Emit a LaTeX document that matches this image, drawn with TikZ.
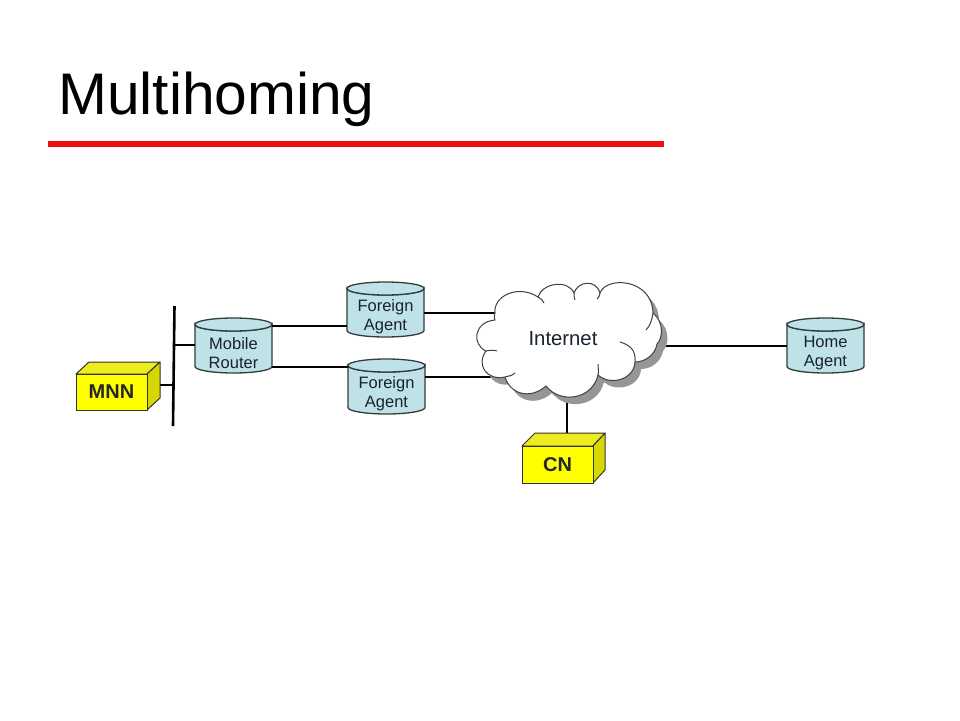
\documentclass[tikz,border=0pt]{standalone}
\usepackage{fontspec}
\setmainfont{Liberation Sans}
\definecolor{cyl}{RGB}{190,226,232}
\definecolor{cylline}{RGB}{50,60,60}
\definecolor{boxy}{RGB}{255,255,0}
\definecolor{boxs}{RGB}{214,214,0}
\definecolor{boxt}{RGB}{236,236,30}
\definecolor{shad}{RGB}{150,150,150}
\definecolor{lab}{RGB}{25,35,45}
\definecolor{redline}{RGB}{240,16,16}
\newcommand{\cloudpath}{
  (495,313) .. controls (493,296) and (518,284) .. (538,297)
  .. controls (542,283) and (568,279) .. (574,293)
  .. controls (578,281) and (596,279) .. (600,293)
  .. controls (606,276) and (652,278) .. (653,313)
  .. controls (664,322) and (663,338) .. (657,344)
  .. controls (655,355) and (645,362) .. (635,362)
  .. controls (634,380) and (610,386) .. (598,375)
  .. controls (592,400) and (560,404) .. (546,386)
  .. controls (530,400) and (510,394) .. (505,377)
  .. controls (486,381) and (476,364) .. (486,351)
  .. controls (472,345) and (473,322) .. (495,320)
  .. controls (494,318) and (494,316) .. (495,313) -- cycle}
\newcommand{\cylshape}[5]{% name, cx, cy, line one, line two
  \node[cyltext,minimum width=77pt,minimum height=55pt] (#1) at (#2,#3) {};
  \draw[cylbody] (#1.north west) ++(0,6.5) -- ++(0,42)
     arc[start angle=180,end angle=360,x radius=38.5pt,y radius=6.5pt]
     -- ++(0,-42) arc[start angle=0,end angle=180,x radius=38.5pt,y radius=-6.5pt] -- cycle;
  \draw[cylbody] (#1.north) ++(0,6.5) ellipse[x radius=38.5pt,y radius=6.5pt];
  \node[cyltext] at ([yshift=-7.5pt]#1.center) {#4\\#5};
}
\tikzset{
  cylbody/.style={draw=cylline,line width=1.3pt,fill=cyl},
  cyltext/.style={font=\fontsize{16.5}{19}\selectfont,text=lab,align=center,inner sep=0pt,outer sep=0pt},
  boxfront/.style={draw=black!80,line width=1pt,fill=boxy,inner sep=0pt,outer sep=0pt,
    font=\fontsize{20}{24}\selectfont\bfseries,text=black!85},
  boxtop/.style={draw=black!80,line width=1pt,fill=boxt,line join=round},
  boxside/.style={draw=black!80,line width=1pt,fill=boxs,line join=round},
  link/.style={draw=black,line width=2.3pt},
  bus/.style={draw=black,line width=2.6pt},
}
\begin{document}
\begin{tikzpicture}[x=1pt,y=-1pt]
\useasboundingbox (0,0) rectangle (960,720);
\fill[white] (0,0) rectangle (960,720);
\node[anchor=base west,inner sep=0pt,font=\fontsize{58.7}{60}\selectfont,text=black] (title) at (58,114) {Multihoming};
\coordinate (ruleL) at (48,144);
\coordinate (ruleR) at (664,144);
\draw[draw=redline,line width=6pt] (ruleL) -- (ruleR);
% free ends
\coordinate (busT) at (174.5,306);
\coordinate (busB) at (173,426);
\coordinate (busMR) at (174,345);
\coordinate (busMN) at (173,385);
\coordinate (cloudFA1) at (497,313);
\coordinate (cloudFA2) at (502,377);
\coordinate (cloudHA) at (656,346);
\coordinate (cloudCN) at (567,395);
\coordinate (mrA) at (272,326);
\coordinate (mrB) at (272,367);
% boxes
\draw[boxtop] (76,374) -- (89,362) -- (160,362) -- (147,374) -- cycle;
\draw[boxside] (147,374) -- (160,362) -- (160,398) -- (147,410) -- cycle;
\node[boxfront,minimum width=71pt,minimum height=36pt] (mnn) at (111.5,392) {MNN};
\draw[boxtop] (522,446) -- (535,433) -- (605,433) -- (593,446) -- cycle;
\draw[boxside] (593,446) -- (605,433) -- (605,470) -- (593,483) -- cycle;
\node[boxfront,minimum width=71pt,minimum height=37pt] (cn) at (557.5,464.5) {CN};
\coordinate (mnnR) at (160,385);
\coordinate (cnT) at (567,433);
% connectors
\draw[bus] (busT) -- (busB);
\draw[link] (mnnR) -- (busMN);
\cylshape{mr}{233.5}{345.5}{Mobile}{Router}
\cylshape{fa1}{385.5}{309.5}{Foreign}{Agent}
\cylshape{fa2}{386.5}{386.5}{Foreign}{Agent}
\cylshape{ha}{825.5}{345.5}{Home}{Agent}
\draw[link] (busMR) -- (mr.west |- busMR);
\draw[link] (mrA) -- (fa1.west |- mrA);
\draw[link] (mrB) -- (fa2.west |- mrB);
\draw[link] (fa1.east |- cloudFA1) -- (cloudFA1);
\draw[link] (fa2.east |- cloudFA2) -- (cloudFA2);
\draw[link] (cloudHA) -- (ha.west |- cloudHA);
\draw[link] (cloudCN) -- (cnT);
% cloud
\fill[shad] [shift={(6,7)}] \cloudpath;
\draw[fill=white,draw=black!75,line width=1pt] \cloudpath;
\draw[draw=black!75,line width=1pt]
  (635,362) .. controls (636,350) and (630,345) .. (620,342)
  (598,375) .. controls (599,372) and (598,368) .. (598,364)
  (505,377) .. controls (508,376) and (512,376) .. (515,373)
  (486,351) .. controls (490,350) and (494,350) .. (497,351)
  (653,313) .. controls (652,320) and (650,326) .. (646,330)
  (574,293) .. controls (574,296) and (574,298) .. (575,300)
  (600,293) .. controls (600,295) and (599,297) .. (597,299)
  (538,297) .. controls (541,299) and (543,300) .. (544,303);
\node[inner sep=0pt,font=\fontsize{20.3}{24}\selectfont,text=lab] (inet) at (563,339) {Internet};
\end{tikzpicture}
\end{document}
